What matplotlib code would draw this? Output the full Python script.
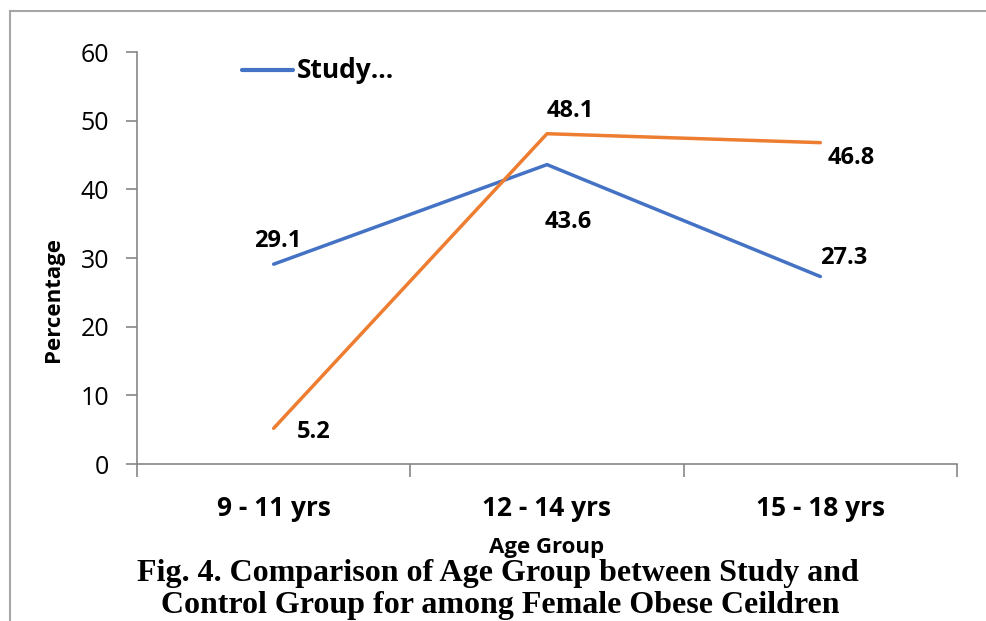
import matplotlib.pyplot as plt
from matplotlib.lines import Line2D

# data
age_groups = ['9 - 11 yrs', '12 - 14 yrs', '15 - 18 yrs']
study = [29.1, 43.6, 27.3]
control = [5.2, 48.1, 46.8]

W, H = 986, 621
fig = plt.figure(figsize=(W / 100, H / 100), dpi=100)
fig.patch.set_facecolor('white')

def fx(px):
    return px / W

def fy(py):
    return 1 - py / H

# outer frame (only left and top visible in the crop)
grey = '#A6A6A6'
fig.add_artist(Line2D([fx(9.5), fx(9.5)], [fy(11), -0.05], color=grey, lw=1.5))
fig.add_artist(Line2D([fx(9.5), 1.05], [fy(11), fy(11)], color=grey, lw=1.5))

ax = fig.add_axes([fx(137), fy(464), fx(957) - fx(137), fy(52) - fy(464)])

x = [0, 1, 2]
ax.plot(x, study, color='#4472C4', lw=2.5, solid_capstyle='round')
ax.plot(x, control, color='#ED7D31', lw=2.5, solid_capstyle='round')

ax.set_xlim(-0.5, 2.5)
ax.set_ylim(0, 60)
ax.set_yticks(range(0, 61, 10))
ax.set_yticklabels([str(v) for v in range(0, 61, 10)], fontsize=18, family='Open Sans')
ax.set_xticks([-0.5, 0.5, 1.5, 2.5], minor=False)
ax.set_xticklabels([])
ax.set_xticks(x, minor=True)
ax.set_xticklabels(age_groups, minor=True, fontsize=19, fontweight='bold', family='Open Sans')
ax.tick_params(axis='x', which='minor', length=0, pad=22)
ax.tick_params(axis='x', which='major', length=9, color='#868686', width=1.2)
ax.tick_params(axis='y', length=8, color='#868686', width=1.2, pad=12)

for s in ['top', 'right']:
    ax.spines[s].set_visible(False)
for s in ['left', 'bottom']:
    ax.spines[s].set_color('#868686')
    ax.spines[s].set_linewidth(1.2)

# data labels
lab = dict(fontsize=17, fontweight='bold', family='Open Sans')
study_off = [(3, 17), (15, -41), (17, 13)]
control_off = [(29, -3), (17, 16.5), (22, -11)]
for i in x:
    ax.annotate(f'{study[i]}', (i, study[i]), xytext=study_off[i], textcoords='offset points',
                ha='center', va='center', **lab)
    ax.annotate(f'{control[i]}', (i, control[i]), xytext=control_off[i], textcoords='offset points',
                ha='center', va='center', **lab)

# legend (truncated in the original)
fig.add_artist(Line2D([fx(242), fx(293)], [fy(70), fy(70)], color='#4472C4', lw=3, solid_capstyle='round'))
fig.text(fx(297), fy(70), 'Study…', fontsize=19, fontweight='bold', family='Open Sans', va='center', ha='left')

fig.text(fx(53), fy(300), 'Percentage', rotation=90, fontsize=16, fontweight='bold',
         family='Open Sans', ha='center', va='center')
fig.text(fx(547), fy(547), 'Age Group', fontsize=16, fontweight='bold', family='Open Sans',
         ha='center', va='center')

fig.text(fx(498), fy(573), 'Fig. 4. Comparison of Age Group between Study and', fontsize=23,
         fontweight='bold', family='Liberation Serif', ha='center', va='center')
fig.text(fx(500), fy(605), 'Control Group for among Female Obese Ceildren', fontsize=23,
         fontweight='bold', family='Liberation Serif', ha='center', va='center')

fig.savefig('out.png', dpi=100)
